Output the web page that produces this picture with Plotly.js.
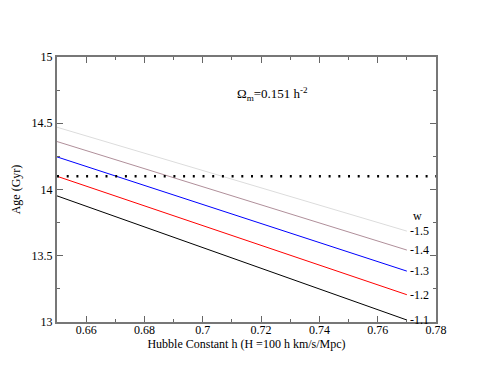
<!DOCTYPE html>
<html>
<head>
<meta charset="utf-8">
<script src="https://cdn.plot.ly/plotly-3.0.1.min.js"></script>
<style>
  body { margin: 0; background: #fff; }
  #plot { width: 491px; height: 379px; }
</style>
</head>
<body>
<div id="plot"></div>
<script>
// hubble constant h at the ends of each curve
const hWerte = [0.65, 0.77];

// w values and ages (Gyr)
const wLabels = ["-1.1", "-1.2", "-1.3", "-1.4", "-1.5"];
const ageW11 = [13.952, 13.015];
const ageW12 = [14.100, 13.206];
const ageW13 = [14.246, 13.384];
const ageW14 = [14.362, 13.543];
const ageW15 = [14.470, 13.686];
const farben = ["#000000", "#ff0000", "#0000ff", "#b08f9a", "#dcdcdc"];

// horizontal dotted reference age
const refH = [0.65, 0.78];
const refAge = [14.1, 14.1];

const serien = [ageW11, ageW12, ageW13, ageW14, ageW15];

const data = serien.map((y, i) => ({
  x: hWerte,
  y: y,
  type: "scatter",
  mode: "lines",
  line: { color: farben[i], width: 1 },
  hoverinfo: "skip",
}));

data.push({
  x: refH,
  y: refAge,
  type: "scatter",
  mode: "lines",
  line: { color: "#000", width: 2.5, dash: "2px,7.7px" },
  hoverinfo: "skip",
});

const schrift = { family: "Liberation Serif, Times New Roman, serif", size: 12, color: "#000" };

const annotations = serien.map((y, i) => ({
  x: hWerte[1],
  y: y[1],
  text: wLabels[i],
  showarrow: false,
  xanchor: "left",
  xshift: 1,
  font: schrift,
}));
annotations.push({
  x: 0.7735, y: 13.80, text: "w", showarrow: false, xanchor: "center", font: schrift,
});
annotations.push({
  x: 0.724, y: 14.72,
  text: "Ω<sub>m</sub>=0.151 h<sup>-2</sup>",
  showarrow: false, xanchor: "center", font: { family: schrift.family, size: 13, color: "#000" },
});

const achse = {
  showgrid: false,
  zeroline: false,
  showline: true,
  linecolor: "#777",
  linewidth: 2,
  mirror: "ticks",
  ticks: "inside",
  ticklen: 6,
  tickcolor: "#666",
  tickfont: schrift,
};

const layout = {
  width: 491,
  height: 379,
  showlegend: false,
  paper_bgcolor: "#fff",
  plot_bgcolor: "#fff",
  margin: { l: 57, r: 55, t: 57, b: 57 },
  xaxis: Object.assign({}, achse, {
    range: [0.65, 0.78],
    dtick: 0.02,
    tick0: 0.66,
    ticklabelstandoff: -4,
    minor: { dtick: 0.01, ticks: "inside", ticklen: 3, tickcolor: "#666" },
    title: { text: "Hubble Constant h (H =100 h km/s/Mpc)", font: schrift, standoff: 0 },
  }),
  yaxis: Object.assign({}, achse, {
    range: [13, 15],
    dtick: 0.5,
    minor: { dtick: 0.25, ticks: "inside", ticklen: 3, tickcolor: "#666" },
    title: { text: "Age (Gyr)", font: schrift, standoff: 8 },
  }),
  annotations: annotations,
};

Plotly.newPlot("plot", data, layout, { staticPlot: true });
</script>
</body>
</html>
